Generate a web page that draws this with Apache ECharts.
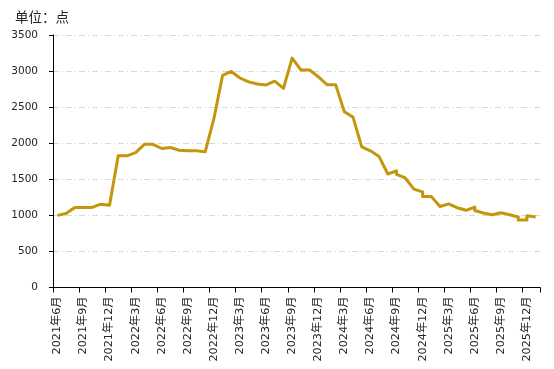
<!DOCTYPE html>
<html>
<head>
<meta charset="utf-8">
<script src="https://cdn.jsdelivr.net/npm/echarts@6/dist/echarts.min.js"></script>
<style>
html,body{margin:0;padding:0;background:#fff;}
#chart{width:554px;height:369px;}
</style>
</head>
<body>
<div id="chart"></div>
<script>
// Categories: months from 2021年6月 to 2026年1月
var months = [];
(function(){
  var y = 2021, m = 6;
  for (var k = 0; k < 56; k++) {
    months.push(y + '年' + m + '月');
    m++; if (m > 12) { m = 1; y++; }
  }
})();

// Observed points (some months carry two observations)
var pointMonths = [
  '2021年6月','2021年7月','2021年8月','2021年9月','2021年10月','2021年11月','2021年12月',
  '2022年1月','2022年2月','2022年3月','2022年4月','2022年5月','2022年6月','2022年7月','2022年8月','2022年9月','2022年10月','2022年11月','2022年12月',
  '2023年1月','2023年2月','2023年3月','2023年4月','2023年5月','2023年6月','2023年7月','2023年8月','2023年9月','2023年10月','2023年11月','2023年12月',
  '2024年1月','2024年2月','2024年3月','2024年4月','2024年5月','2024年6月','2024年7月','2024年8月','2024年9月','2024年9月','2024年10月','2024年11月','2024年12月','2024年12月',
  '2025年1月','2025年2月','2025年3月','2025年4月','2025年5月','2025年6月','2025年6月','2025年7月','2025年8月','2025年9月','2025年10月','2025年11月','2025年11月','2025年12月','2025年12月',
  '2026年1月'
];
var pointValues = [
  1000,1025,1110,1110,1110,1155,1140,
  1825,1825,1870,1985,1985,1927,1940,1903,1894,1894,1880,2340,
  2940,2995,2904,2850,2821,2808,2860,2761,3179,3016,3016,2922,
  2812,2812,2435,2362,1949,1894,1815,1573,1616,1569,1518,1364,1325,1261,
  1261,1123,1160,1105,1070,1115,1068,1032,1009,1036,1009,977,935,935,995,
  977
];

var yMin = 0, yMax = 3500, yInterval = 500;
var titleText = '单位：点';

var seriesData = pointMonths.map(function(mo, i){ return [months.indexOf(mo), pointValues[i]]; });

var chart = echarts.init(document.getElementById('chart'), null, {renderer:'canvas'});
var textColor = '#262626';
chart.setOption({
  animation: false,
  backgroundColor: '#ffffff',
  title: {
    text: titleText,
    left: 10, top: 5,
    textStyle: {fontSize: 13.5, fontWeight: 'normal', color: textColor, fontFamily: 'Noto Sans CJK SC'}
  },
  grid: {left: 53, right: 14, top: 35, bottom: 81.5, containLabel: false},
  xAxis: {
    type: 'category',
    data: months,
    boundaryGap: true,
    axisLine: {show: true, lineStyle: {color: '#000', width: 1}},
    axisTick: {show: true, interval: 2, alignWithLabel: false, length: 5, lineStyle: {color: '#000'}},
    axisLabel: {
      interval: 2, rotate: 90, margin: 9,
      fontSize: 11.2, color: textColor,
      fontFamily: 'DejaVu Sans, Noto Sans CJK SC'
    },
    splitLine: {show: false}
  },
  yAxis: {
    type: 'value',
    min: yMin, max: yMax, interval: yInterval,
    axisLine: {show: true, lineStyle: {color: '#000', width: 1}},
    axisTick: {show: true, length: 4, lineStyle: {color: '#000'}},
    axisLabel: {margin: 15, fontSize: 10.5, color: textColor, fontFamily: 'DejaVu Sans',
      formatter: function(v){ return String(v); }},
    splitLine: {show: true, lineStyle: {color: '#d9d9d9', width: 1, type: [6,3,1,3]}}
  },
  series: [{
    type: 'line',
    data: seriesData,
    showSymbol: false,
    symbol: 'none',
    smooth: false,
    lineStyle: {color: '#C4960C', width: 3, join: 'round'},
    itemStyle: {color: '#C4960C'}
  }]
});
</script>
</body>
</html>
